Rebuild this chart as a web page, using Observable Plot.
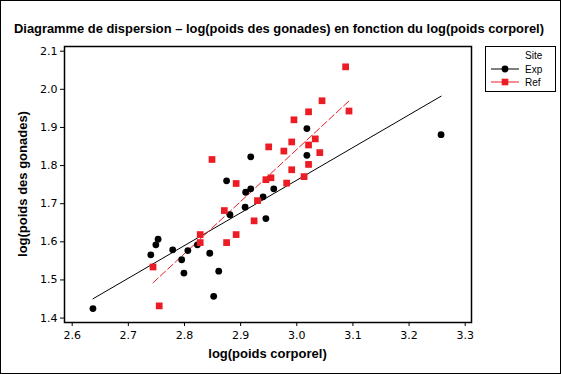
<!DOCTYPE html>
<html>
<head>
<meta charset="utf-8">
<script src="https://cdn.jsdelivr.net/npm/d3@7"></script>
<script src="https://cdn.jsdelivr.net/npm/@observablehq/plot@0.6"></script>
<style>
  body { margin: 0; background: white; }
  #chart svg { display: block; }
</style>
</head>
<body>
<div id="chart"></div>
<script>
const titleText = "Diagramme de dispersion – log(poids des gonades) en fonction du log(poids corporel)";
const xLabel = "log(poids corporel)";
const yLabel = "log(poids des gonades)";
const legendTitle = "Site";
const sites = ["Exp", "Ref"];

const expX = [2.637, 2.740, 2.749, 2.753, 2.779, 2.795, 2.799, 2.806, 2.823, 2.845, 2.852, 2.861, 2.875, 2.881, 2.908, 2.909, 2.918, 2.918, 2.940, 2.945, 2.959, 3.018, 3.018, 3.257];
const expY = [1.425, 1.566, 1.592, 1.607, 1.579, 1.553, 1.518, 1.577, 1.592, 1.570, 1.457, 1.523, 1.760, 1.671, 1.691, 1.730, 1.739, 1.823, 1.718, 1.661, 1.739, 1.897, 1.827, 1.881];

const refX = [2.744, 2.755, 2.828, 2.828, 2.849, 2.871, 2.875, 2.892, 2.892, 2.924, 2.930, 2.945, 2.950, 2.954, 2.977, 2.982, 2.991, 2.991, 2.995, 3.013, 3.021, 3.021, 3.021, 3.033, 3.041, 3.045, 3.087, 3.093];
const refY = [1.534, 1.432, 1.619, 1.598, 1.816, 1.682, 1.598, 1.619, 1.753, 1.655, 1.708, 1.763, 1.849, 1.768, 1.838, 1.754, 1.862, 1.789, 1.920, 1.771, 1.941, 1.854, 1.803, 1.870, 1.834, 1.970, 2.059, 1.943];

const xTicks = [2.6, 2.7, 2.8, 2.9, 3.0, 3.1, 3.2, 3.3];
const yTicks = [1.4, 1.5, 1.6, 1.7, 1.8, 1.9, 2.0, 2.1];

const exp = expX.map((x, i) => ({x, y: expY[i], site: sites[0]}));
const ref = refX.map((x, i) => ({x, y: refY[i], site: sites[1]}));

const RED = "#ec1c24";
const W = 561, H = 374;
const mL = 64, mR = 90, mT = 46, mB = 52;

const chart = Plot.plot({
  width: W, height: H,
  marginLeft: mL, marginRight: mR, marginTop: mT, marginBottom: mB,
  style: {fontFamily: "DejaVu Sans", fontSize: "11px", color: "black", background: "white", overflow: "visible"},
  x: {domain: [2.5863, 3.3112]},
  y: {domain: [1.3884, 2.1123]},
  marks: [
    Plot.axisX({ticks: xTicks, tickFormat: d3.format(".1f"), tickSize: 4, tickPadding: 5, label: null, fontSize: 11}),
    Plot.axisY({ticks: yTicks, tickFormat: d3.format(".1f"), tickSize: 4, tickPadding: 3, label: null, fontSize: 11}),
    Plot.linearRegressionY(exp, {x: "x", y: "y", stroke: "black", strokeWidth: 1, ci: 0}),
    Plot.linearRegressionY(ref, {x: "x", y: "y", stroke: RED, strokeWidth: 1, strokeDasharray: "7,3", ci: 0}),
    Plot.dot(exp, {x: "x", y: "y", fill: "black", r: 3.4, symbol: "circle"}),
    Plot.dot(ref, {x: "x", y: "y", fill: RED, r: 3.8, symbol: "square"}),
    Plot.frame({stroke: "black", strokeWidth: 1.5})
  ]
});
document.getElementById("chart").appendChild(chart);

const svg = d3.select(chart);
// outer border
svg.append("rect").attr("x", 0.5).attr("y", 0.5).attr("width", W - 1).attr("height", H - 1)
  .attr("fill", "none").attr("stroke", "black");
// title
svg.append("text").attr("x", 279).attr("y", 28).attr("text-anchor", "middle").attr("dominant-baseline", "central")
  .attr("font-family", "Liberation Sans").attr("font-weight", "bold").attr("font-size", 12.9).text(titleText);
// axis labels
const cx = (mL + (W - mR)) / 2, cy = (mT + (H - mB)) / 2;
svg.append("text").attr("x", cx).attr("y", 353).attr("text-anchor", "middle").attr("dominant-baseline", "central")
  .attr("font-family", "Liberation Sans").attr("font-weight", "bold").attr("font-size", 13).text(xLabel);
svg.append("text").attr("transform", `translate(22,${cy}) rotate(-90)`).attr("text-anchor", "middle").attr("dominant-baseline", "central")
  .attr("font-family", "Liberation Sans").attr("font-weight", "bold").attr("font-size", 13).text(yLabel);

// legend
const lg = svg.append("g").attr("font-family", "Liberation Sans").attr("font-size", 10).attr("text-anchor", "start");
lg.append("rect").attr("x", 485.5).attr("y", 46.5).attr("width", 70).attr("height", 45)
  .attr("fill", "white").attr("stroke", "black");
lg.append("text").attr("x", 525).attr("y", 55).attr("dominant-baseline", "central").text(legendTitle);
const rows = [{name: sites[0], y: 69, color: "black", shape: "circle"}, {name: sites[1], y: 82, color: RED, shape: "square"}];
rows.forEach(r => {
  lg.append("line").attr("x1", 491).attr("x2", 519).attr("y1", r.y).attr("y2", r.y).attr("stroke", r.color);
  if (r.shape === "circle") lg.append("circle").attr("cx", 505).attr("cy", r.y).attr("r", 3.4).attr("fill", r.color);
  else lg.append("rect").attr("x", 501.7).attr("y", r.y - 3.3).attr("width", 6.6).attr("height", 6.6).attr("fill", r.color);
  lg.append("text").attr("x", 525).attr("y", r.y).attr("dominant-baseline", "central").text(r.name);
});
</script>
</body>
</html>
